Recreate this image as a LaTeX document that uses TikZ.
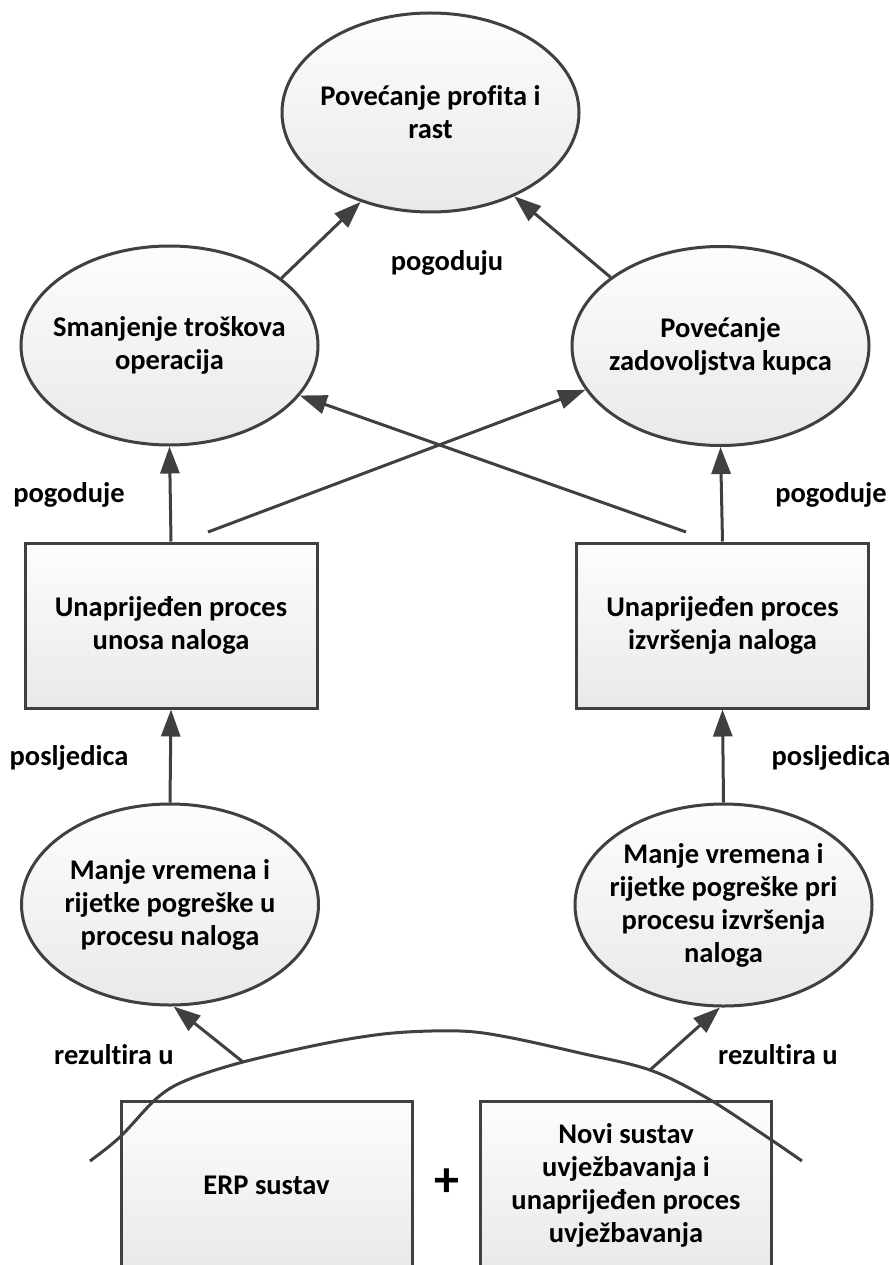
\documentclass[tikz,border=0pt]{standalone}
\usepackage{fontspec}
\setmainfont{Carlito}[Ligatures=NoCommon]
\usetikzlibrary{shapes.geometric,arrows.meta}
\definecolor{ln}{HTML}{404040}
\definecolor{ftop}{HTML}{FDFDFD}
\definecolor{fbot}{HTML}{E9E9E9}
\begin{document}
\begin{tikzpicture}[x=1pt,y=-1pt,
  every node/.style={font=\fontsize{28.5}{33}\selectfont\bfseries, text=black},
  ell/.style={ellipse, draw=ln, line width=3pt, top color=ftop, bottom color=fbot,
    minimum width=297pt, minimum height=199pt, inner sep=0pt},
  box/.style={rectangle, draw=ln, line width=3pt, top color=ftop, bottom color=fbot,
    minimum width=292pt, minimum height=165pt, inner sep=0pt, align=center},
  txt/.style={align=center, inner sep=0pt},
  lab/.style={inner sep=0pt},
  arr/.style={draw=ln, line width=3pt, -{Triangle[length=27pt,width=19pt]}},
  curve/.style={draw=ln, line width=3pt}
]
\clip (0,0) rectangle (890,1265);
\fill[white] (0,0) rectangle (890,1265);

% ellipses
\node[ell] (top) at (430.5,112.5) {};
\node[txt] (ttop) at (top) {Povećanje profita i\\rast};
\node[ell] (lm) at (169.5,345.5) {};
\node[txt] (tlm) at (lm) {Smanjenje troškova\\operacija};
\node[ell] (rm) at (720.5,346) {};
\node[txt] (trm) at (rm) {Povećanje\\zadovoljstva kupca};
\node[ell, minimum height=201pt] (llow) at (170,904.5) {};
\node[txt] (tllow) at (llow) {Manje vremena i\\rijetke pogreške u\\procesu naloga};
\node[ell, minimum height=202pt] (rlow) at (723.5,905) {};
\node[txt] (trlow) at (rlow) {Manje vremena i\\rijetke pogreške pri\\procesu izvršenja\\naloga};

% boxes
\node[box] (lb) at (171,625.5) {Unaprijeđen proces\\unosa naloga};
\node[box] (rb) at (722.5,625.5) {Unaprijeđen proces\\izvršenja naloga};
\node[box, minimum width=291pt, minimum height=168pt] (erp) at (266.5,1185) {ERP sustav};
\node[box, minimum width=291pt, minimum height=168pt] (novi) at (626,1185)
  {Novi sustav\\uvježbavanja i\\unaprijeđen proces\\uvježbavanja};
\node[lab, font=\fontsize{50}{50}\selectfont\bfseries] (plus) at (447,1183) {+};

% arc
\draw[curve] plot[smooth, tension=0.55] coordinates {(90,1161) (120,1137) (157,1098) (187,1080) (243,1062) (327,1043) (393,1033) (460,1031) (507,1037) (580,1053) (650,1070) (707,1098) (767,1137) (802,1161)};
\coordinate (a1) at (243,1062);
\coordinate (a2) at (650,1070);
\coordinate (c1) at (208,532);
\coordinate (c2) at (686,532);

% arrows
\draw[arr] (lm.31) -- (top.232);
\draw[arr] (rm.148) -- (top.315);
\draw[arr] (lb.north) -- (lm.south);
\draw[arr] (rb.north) -- (rm.south);
\draw[arr] (c1) -- (rm.198);
\draw[arr] (c2) -- (lm.339);
\draw[arr] (llow.north) -- (lb.south);
\draw[arr] (rlow.north) -- (rb.south);
\draw[arr] (a1) -- (llow.272);
\draw[arr] (a2) -- (rlow.268);

% labels
\node[lab] (l1) at (447,263) {pogoduju};
\node[lab] (l2) at (69,495) {pogoduje};
\node[lab] (l3) at (831,495) {pogoduje};
\node[lab] (l4) at (69,758) {posljedica};
\node[lab] (l5) at (831,758) {posljedica};
\node[lab] (l6) at (114,1055) {rezultira u};
\node[lab] (l7) at (778,1055) {rezultira u};
\end{tikzpicture}
\end{document}
